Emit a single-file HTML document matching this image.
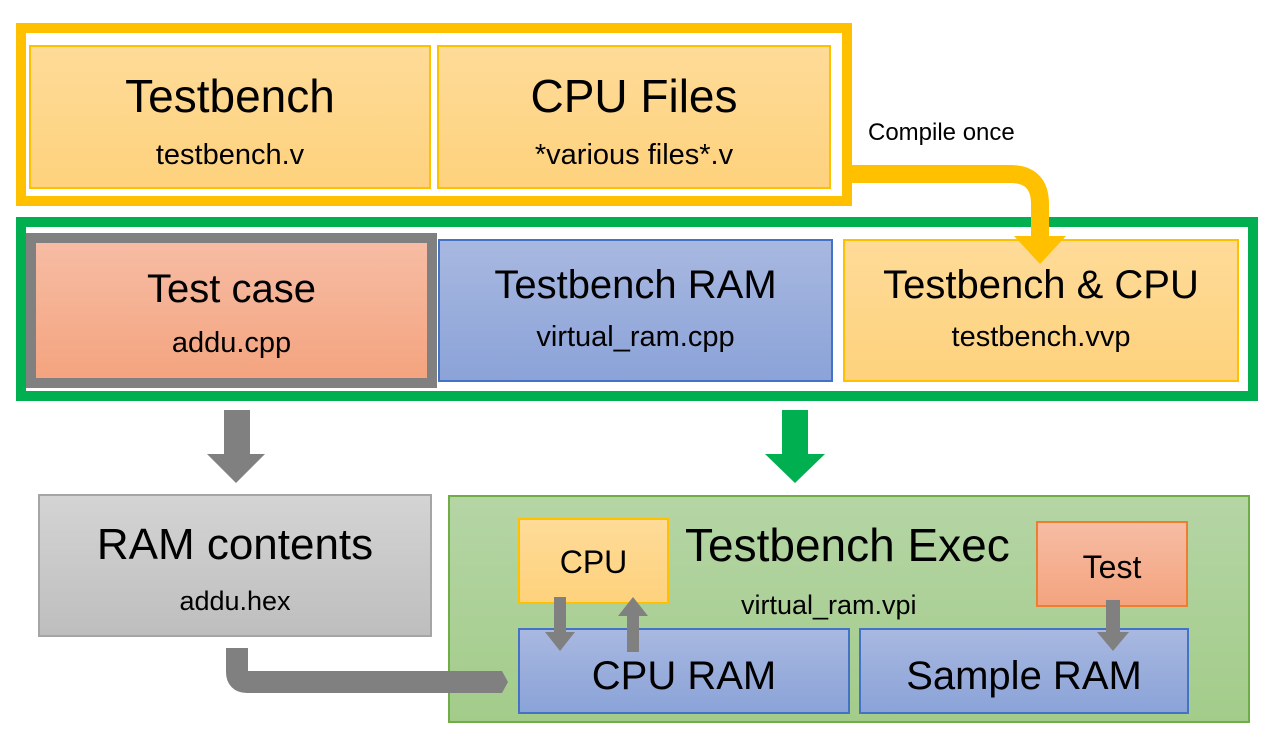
<!DOCTYPE html><html><head><style>
body{margin:0;width:1284px;height:750px;background:#fff;position:relative;overflow:hidden;font-family:"Liberation Sans",sans-serif;}
.b{position:absolute;box-sizing:border-box;text-align:center;color:#000;}
.t{position:absolute;left:0;right:0;text-align:center;white-space:nowrap}
.or{background:linear-gradient(#fedb98,#fed27d);border:2px solid #ffc000}
.bl{background:linear-gradient(#a8b8e0,#8ba3d8);border:2px solid #4472c4}
.rd{background:linear-gradient(#f6bca4,#f4a47f)}
</style></head><body>
<div class="b" style="left:16px;top:23px;width:836px;height:183px;border:10px solid #ffc000"></div>
<div class="b or" style="left:29px;top:45px;width:402px;height:144px"><div class="t" style="top:22px;font-size:46px">Testbench</div><div class="t" style="top:92px;font-size:29px">testbench.v</div></div>
<div class="b or" style="left:437px;top:45px;width:394px;height:144px"><div class="t" style="top:22px;font-size:46px">CPU Files</div><div class="t" style="top:92px;font-size:29px">*various files*.v</div></div>
<div class="b" style="left:16px;top:217px;width:1242px;height:184px;border:10px solid #00b050"></div>
<div class="b rd" style="left:26px;top:233px;width:411px;height:155px;border:10px solid #808080"><div class="t" style="top:24px;font-size:40px">Test case</div><div class="t" style="top:84px;font-size:29px">addu.cpp</div></div>
<div class="b bl" style="left:438px;top:239px;width:395px;height:143px"><div class="t" style="top:22px;font-size:40px">Testbench RAM</div><div class="t" style="top:80px;font-size:29px">virtual_ram.cpp</div></div>
<div class="b or" style="left:843px;top:239px;width:396px;height:143px"><div class="t" style="top:22px;font-size:40px">Testbench &amp; CPU</div><div class="t" style="top:80px;font-size:29px">testbench.vvp</div></div>
<div class="b" style="left:38px;top:494px;width:394px;height:143px;background:linear-gradient(#d4d4d4,#bebebe);border:2px solid #a5a5a5"><div class="t" style="top:24px;font-size:44px">RAM contents</div><div class="t" style="top:90px;font-size:27px">addu.hex</div></div>
<div class="b" style="left:448px;top:495px;width:802px;height:228px;background:linear-gradient(#b5d5a5,#a3cc8a);border:2px solid #70ad47"></div>
<div class="t" style="left:685px;right:auto;top:518px;font-size:46px">Testbench Exec</div>
<div class="t" style="left:741px;right:auto;top:590px;font-size:27px">virtual_ram.vpi</div>
<div class="b or" style="left:518px;top:518px;width:151px;height:86px"><div class="t" style="top:24px;font-size:32px">CPU</div></div>
<div class="b rd" style="left:1036px;top:521px;width:152px;height:86px;border:2px solid #ed7d31"><div class="t" style="top:26px;font-size:32px">Test</div></div>
<div class="b bl" style="left:518px;top:628px;width:332px;height:86px"><div class="t" style="top:24px;font-size:40px">CPU RAM</div></div>
<div class="b bl" style="left:859px;top:628px;width:330px;height:86px"><div class="t" style="top:24px;font-size:40px">Sample RAM</div></div>
<div class="t" style="left:868px;right:auto;top:119px;font-size:24px">Compile once</div>
<svg width="1284" height="750" style="position:absolute;left:0;top:0">
<path d="M852 174 H1010 Q1040 174 1040 204 V240" fill="none" stroke="#ffc000" stroke-width="18"/>
<polygon points="1014,236 1066,236 1040,264" fill="#ffc000"/>
<rect x="224" y="410" width="26" height="45" fill="#808080"/><polygon points="207,454 265,454 236,483" fill="#808080"/>
<rect x="782" y="410" width="26" height="45" fill="#00b050"/><polygon points="765,454 825,454 795,483" fill="#00b050"/>
<path d="M237 648 V672 Q237 682 247 682 H495" fill="none" stroke="#808080" stroke-width="22"/>
<polygon points="495,671 502,671 508,682 502,693 495,693" fill="#808080"/>
<rect x="554" y="597" width="12" height="37" fill="#808080"/><polygon points="545,632 575,632 560,651" fill="#808080"/>
<rect x="627" y="615" width="12" height="37" fill="#808080"/><polygon points="618,616 648,616 633,597" fill="#808080"/>
<rect x="1106" y="600" width="14" height="34" fill="#808080"/><polygon points="1097,632 1129,632 1113,651" fill="#808080"/>
</svg>
</body></html>
